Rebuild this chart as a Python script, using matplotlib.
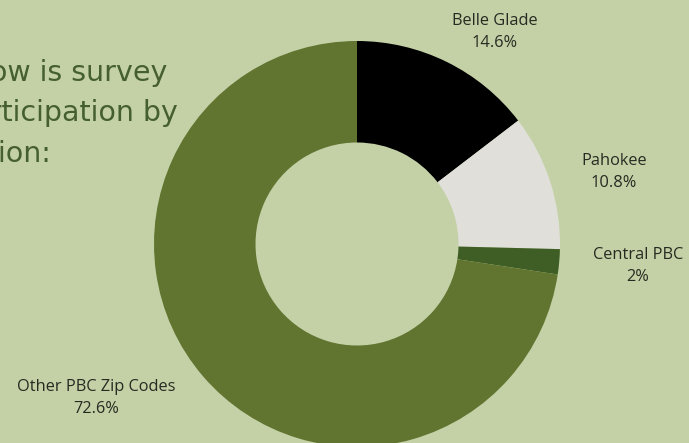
import matplotlib.pyplot as plt

# survey participation by region
regions = ['Belle Glade', 'Pahokee', 'Central PBC', 'Other PBC Zip Codes']
shares = [14.6, 10.8, 2.0, 72.6]
share_labels = ['14.6%', '10.8%', '2%', '72.6%']
colors = ['#000000', '#e0dfda', '#3f5e25', '#617531']

bg = '#c4d1a6'

fig = plt.figure(figsize=(6.89, 4.43), dpi=100, facecolor=bg)
W, H = 689, 443

# donut: centre (357, 244) px, outer radius 203 px
cx, cy, r = 357, 244, 203
ax = fig.add_axes([(cx - r) / W, 1 - (cy + r) / H, 2 * r / W, 2 * r / H])
ax.set_facecolor(bg)
ax.pie(shares, colors=colors, startangle=90, counterclock=False,
       wedgeprops=dict(width=0.5, linewidth=0))
ax.set_xlim(-1, 1)
ax.set_ylim(-1, 1)
ax.set_aspect('auto')
ax.axis('off')

# labels (pixel positions of text centres)
label_pos = [(495, 32), (614, 172), (638, 266), (96, 398)]
for name, pct, (x, y) in zip(regions, share_labels, label_pos):
    fig.text(x / W, 1 - y / H, name + '\n' + pct, ha='center', va='center',
             fontsize=11.8, color='#262b22', family='Open Sans', linespacing=1.45)

# heading, cut off by the left edge like the original
head = ['Below is survey', 'participation by', 'region:']
head_right = [167, 178, 51]
head_y = [73, 113, 154]
for t, x, y in zip(head, head_right, head_y):
    fig.text(x / W, 1 - y / H, t, ha='right', va='center', fontsize=20.5,
             color='#455f30', family='DejaVu Sans')

fig.savefig('out.png', dpi=100, facecolor=bg)
